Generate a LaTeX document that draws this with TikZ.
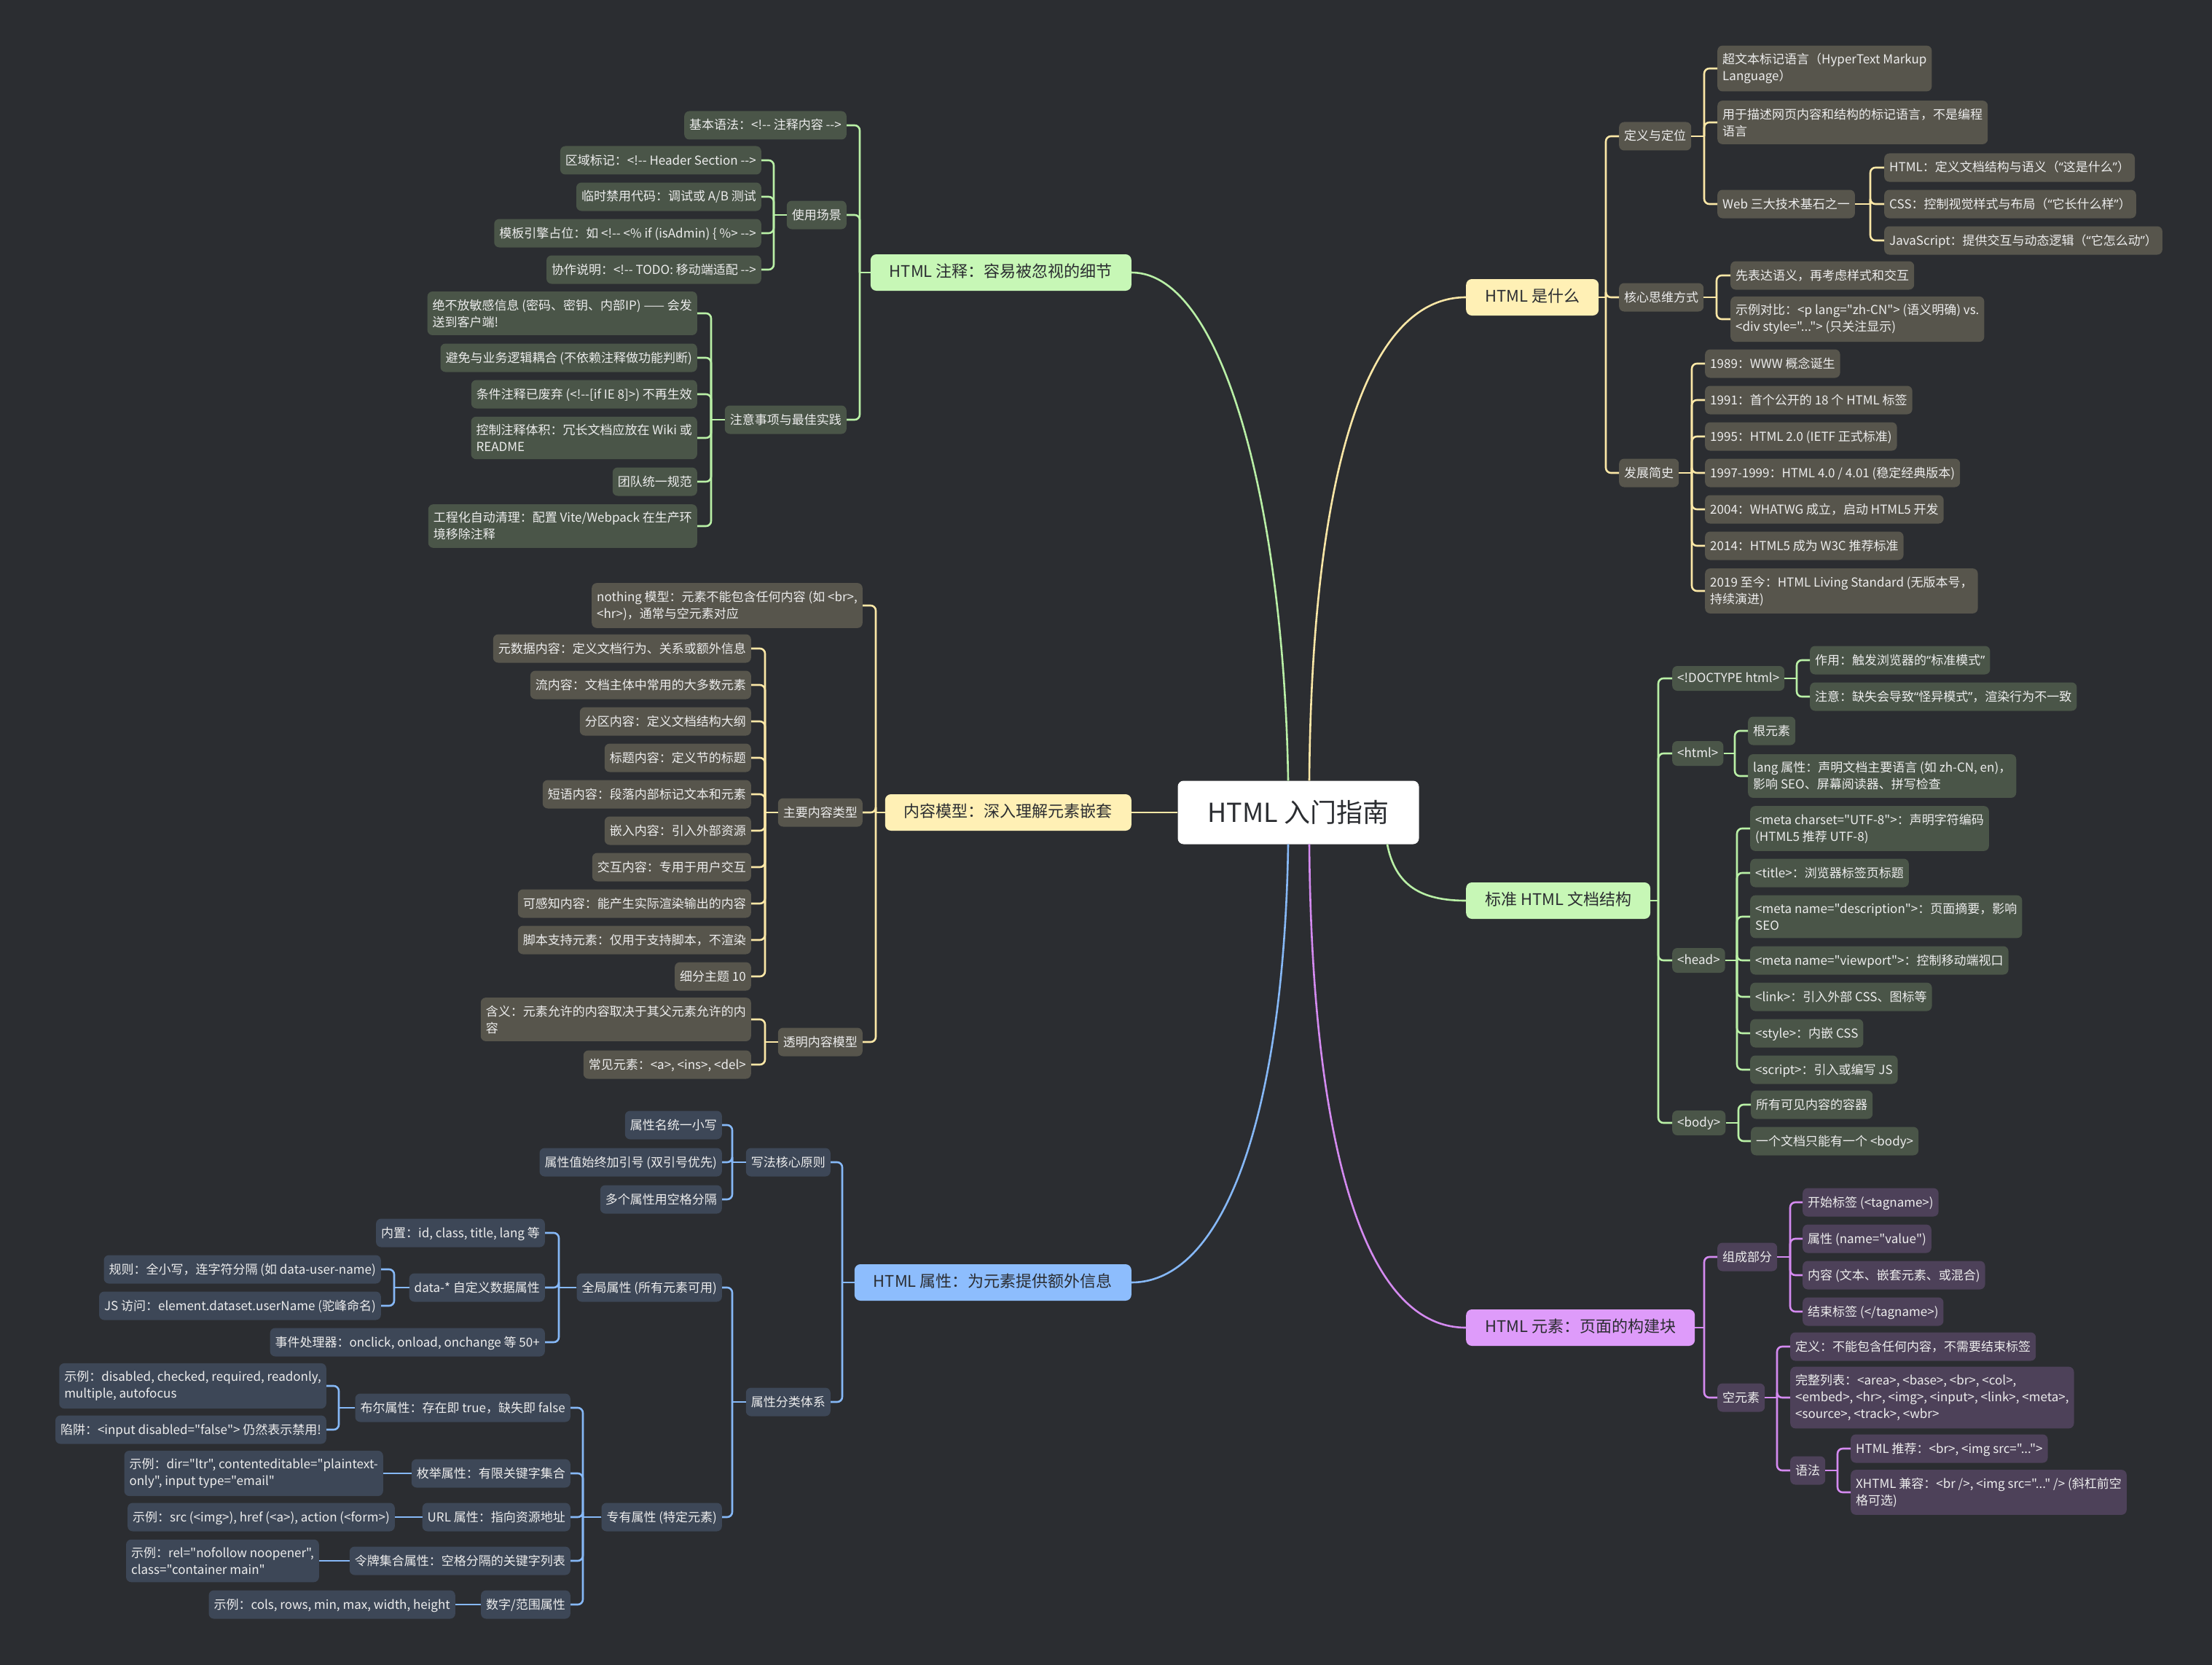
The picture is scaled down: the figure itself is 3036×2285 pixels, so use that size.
\documentclass[tikz,border=0pt]{standalone}
\usepackage{fontspec}
\newfontfamily\cjk{Noto Sans CJK SC}
\newfontfamily\latq{Noto Sans}
\newcommand{\q}[1]{{\latq “}#1{\latq ”}}
\usetikzlibrary{calc}
\definecolor{bg}{HTML}{2B2D31}
\definecolor{subtxt}{HTML}{EDEDED}
\definecolor{maintxt}{HTML}{2B2D31}
\definecolor{gline}{HTML}{B9F0A6}
\definecolor{gsub}{HTML}{4A5548}
\definecolor{gmain}{HTML}{C7F7B6}
\definecolor{yline}{HTML}{FBE7A6}
\definecolor{ysub}{HTML}{57554C}
\definecolor{ymain}{HTML}{FFF0B5}
\definecolor{bline}{HTML}{86B8F7}
\definecolor{bsub}{HTML}{3D4757}
\definecolor{bmain}{HTML}{8DBDFD}
\definecolor{pline}{HTML}{D48AF0}
\definecolor{psub}{HTML}{4D4159}
\definecolor{pmain}{HTML}{DE9BFA}
\newcommand{\bra}[4]{\draw[#1] (#2) -- (#2 -| #3);\draw[#1,rounded corners=7pt] (#2 -| #3) |- (#4);}
\tikzset{
 base/.style={rounded corners=7pt, inner xsep=7pt, inner ysep=10.5pt, text=subtxt, font=\cjk\fontsize{17}{23}\selectfont},
 one/.style={text height=15pt, text depth=3pt},
 lat/.style={text height=12pt, text depth=1pt},
 two/.style={align=left},
 gs/.style={base, fill=gsub},
 ys/.style={base, fill=ysub},
 bs/.style={base, fill=bsub},
 ps/.style={base, fill=psub},
 mn/.style={rounded corners=8pt, inner xsep=26pt, inner ysep=14pt, text height=17pt, text depth=5pt, text=maintxt, font=\cjk\fontsize{22}{26}\selectfont},
 L/.style={anchor=east},
 R/.style={anchor=west},
 gl/.style={draw=gline, line width=2.6pt},
 yl/.style={draw=yline, line width=2.6pt},
 bl/.style={draw=bline, line width=2.6pt},
 pl/.style={draw=pline, line width=2.6pt},
}
\begin{document}
\begin{tikzpicture}[x=1pt,y=-1pt]
\fill[bg] (0,0) rectangle (3036,2285);
\useasboundingbox (0,0) rectangle (3036,2285);

% ---------- center and main nodes
\node[fill=white, rounded corners=8pt, minimum width=331pt, minimum height=87pt, text=maintxt, font=\cjk\fontsize{36}{40}\selectfont] (c) at (1782,1115) {HTML 入门指南};
\node[mn, fill=gmain, L] (m1) at (1553,374) {HTML 注释：容易被忽视的细节};
\node[mn, fill=ymain, L] (m2) at (1553,1115) {内容模型：深入理解元素嵌套};
\node[mn, fill=bmain, L] (m3) at (1553,1760) {HTML 属性：为元素提供额外信息};
\node[mn, fill=ymain, R] (m4) at (2012,408) {HTML 是什么};
\node[mn, fill=gmain, R] (m5) at (2012,1236) {标准 HTML 文档结构};
\node[mn, fill=pmain, R] (m6) at (2012,1822) {HTML 元素：页面的构建块};

\draw[gl] ($(c.north)+(-14,0)$) .. controls (1762,700) and (1680,374) .. (m1.east);
\draw[yl] (c.west) -- (m2.east);
\draw[bl] ($(c.south)+(-14,0)$) .. controls (1762,1530) and (1680,1760) .. (m3.east);
\draw[yl] ($(c.north)+(15,0)$) .. controls (1800,700) and (1860,408) .. (m4.west);
\draw[gl] ($(c.south)+(122,0)$) .. controls (1915,1215) and (1950,1236) .. (m5.west);
\draw[pl] ($(c.south)+(15,0)$) .. controls (1800,1530) and (1860,1822) .. (m6.west);

% ---------- trunks
\coordinate (tA) at (1180,0); \coordinate (tB) at (1062,0); \coordinate (tC) at (976,0);
\coordinate (tD) at (1202,0); \coordinate (tE) at (1050,0);
\coordinate (tF) at (1156,0); \coordinate (tG) at (1005,0); \coordinate (tH) at (767,0);
\coordinate (tI) at (541,0); \coordinate (tJ) at (800,0); \coordinate (tK) at (465,0);
\coordinate (tL) at (2204,0); \coordinate (tM) at (2339,0); \coordinate (tN) at (2567,0);
\coordinate (tO) at (2356,0); \coordinate (tP) at (2322,0);
\coordinate (tQ) at (2276,0); \coordinate (tR) at (2466,0); \coordinate (tS) at (2381,0);
\coordinate (tT) at (2384,0); \coordinate (tU) at (2386,0);
\coordinate (tV) at (2339,0); \coordinate (tW) at (2457,0); \coordinate (tX) at (2439,0);
\coordinate (tY) at (2522,0);

% ---------- HTML 注释
\node[gs,one,L] (g1) at (1162,172) {基本语法：<!-- 注释内容 -->};
\node[gs,one,L] (g2) at (1162,295) {使用场景};
\node[gs,one,L] (g3) at (1162,576) {注意事项与最佳实践};
\node[gs,one,L] (g21) at (1045,220) {区域标记：<!-- Header Section -->};
\node[gs,one,L] (g22) at (1045,270) {临时禁用代码：调试或 A/B 测试};
\node[gs,one,L] (g23) at (1045,320) {模板引擎占位：如 <!-- <\% if (isAdmin) \{ \%> -->};
\node[gs,one,L] (g24) at (1045,370) {协作说明：<!-- TODO: 移动端适配 -->};
\node[gs,two,L] (g31) at (957,430) {绝不放敏感信息 (密码、密钥、内部IP) —— 会发\\送到客户端!};
\node[gs,one,L] (g32) at (957,491) {避免与业务逻辑耦合 (不依赖注释做功能判断)};
\node[gs,one,L] (g33) at (957,541) {条件注释已废弃 (<!--[if IE 8]>) 不再生效};
\node[gs,two,L] (g34) at (957,601) {控制注释体积：冗长文档应放在 Wiki 或\\README};
\node[gs,one,L] (g35) at (957,661) {团队统一规范};
\node[gs,two,L] (g36) at (957,722) {工程化自动清理：配置 Vite/Webpack 在生产环\\境移除注释};
\foreach \k in {g1,g2,g3} {\bra{gl}{m1.west}{tA}{\k.east}}
\foreach \k in {g21,g22,g23,g24} {\bra{gl}{g2.west}{tB}{\k.east}}
\foreach \k in {g31,g32,g33,g34,g35,g36} {\bra{gl}{g3.west}{tC}{\k.east}}

% ---------- 内容模型
\node[ys,two,L] (y1) at (1184,831) {nothing 模型：元素不能包含任何内容 (如 <br>,\\<hr>)，通常与空元素对应};
\node[ys,one,L] (y2) at (1184,1115) {主要内容类型};
\node[ys,one,L] (y3) at (1184,1430) {透明内容模型};
\node[ys,one,L] (y21) at (1031,890) {元数据内容：定义文档行为、关系或额外信息};
\node[ys,one,L] (y22) at (1031,940) {流内容：文档主体中常用的大多数元素};
\node[ys,one,L] (y23) at (1031,990) {分区内容：定义文档结构大纲};
\node[ys,one,L] (y24) at (1031,1040) {标题内容：定义节的标题};
\node[ys,one,L] (y25) at (1031,1090) {短语内容：段落内部标记文本和元素};
\node[ys,one,L] (y26) at (1031,1140) {嵌入内容：引入外部资源};
\node[ys,one,L] (y27) at (1031,1190) {交互内容：专用于用户交互};
\node[ys,one,L] (y28) at (1031,1240) {可感知内容：能产生实际渲染输出的内容};
\node[ys,one,L] (y29) at (1031,1290) {脚本支持元素：仅用于支持脚本，不渲染};
\node[ys,one,L] (y2a) at (1031,1340) {细分主题 10};
\node[ys,two,L] (y31) at (1031,1399) {含义：元素允许的内容取决于其父元素允许的内\\容};
\node[ys,one,L] (y32) at (1031,1461) {常见元素：<a>, <ins>, <del>};
\foreach \k in {y1,y2,y3} {\bra{yl}{m2.west}{tD}{\k.east}}
\foreach \k in {y21,y22,y23,y24,y25,y26,y27,y28,y29,y2a} {\bra{yl}{y2.west}{tE}{\k.east}}
\foreach \k in {y31,y32} {\bra{yl}{y3.west}{tE}{\k.east}}

% ---------- HTML 属性
\node[bs,one,L] (b1) at (1140,1595) {写法核心原则};
\node[bs,one,L] (b2) at (1140,1924) {属性分类体系};
\node[bs,one,L] (b11) at (991,1544) {属性名统一小写};
\node[bs,one,L] (b12) at (991,1595) {属性值始终加引号 (双引号优先)};
\node[bs,one,L] (b13) at (991,1646) {多个属性用空格分隔};
\node[bs,one,L] (b21) at (991,1767) {全局属性 (所有元素可用)};
\node[bs,one,L] (b22) at (991,2082) {专有属性 (特定元素)};
\node[bs,one,L] (b211) at (748,1692) {内置：id, class, title, lang 等};
\node[bs,one,L] (b212) at (748,1767) {data-* 自定义数据属性};
\node[bs,one,L] (b213) at (748,1842) {事件处理器：onclick, onload, onchange 等 50+};
\node[bs,one,L] (b2121) at (523,1742) {规则：全小写，连字符分隔 (如 data-user-name)};
\node[bs,one,L] (b2122) at (523,1792) {JS 访问：element.dataset.userName (驼峰命名)};
\node[bs,one,L] (b221) at (783,1932) {布尔属性：存在即 true，缺失即 false};
\node[bs,one,L] (b222) at (783,2022) {枚举属性：有限关键字集合};
\node[bs,one,L] (b223) at (783,2082) {URL 属性：指向资源地址};
\node[bs,one,L] (b224) at (783,2142) {令牌集合属性：空格分隔的关键字列表};
\node[bs,one,L] (b225) at (783,2202) {数字/范围属性};
\node[bs,two,L] (b2211) at (448,1902) {示例：disabled, checked, required, readonly,\\multiple, autofocus};
\node[bs,one,L] (b2212) at (448,1962) {陷阱：<input disabled="false"> 仍然表示禁用!};
\node[bs,two,L] (b2221) at (526,2022) {示例：dir="ltr", contenteditable="plaintext-\\only", input type="email"};
\node[bs,one,L] (b2231) at (542,2082) {示例：src (<img>), href (<a>), action (<form>)};
\node[bs,two,L] (b2241) at (438,2142) {示例：rel="nofollow noopener",\\class="container main"};
\node[bs,one,L] (b2251) at (625,2202) {示例：cols, rows, min, max, width, height};
\foreach \k in {b1,b2} {\bra{bl}{m3.west}{tF}{\k.east}}
\foreach \k in {b11,b12,b13} {\bra{bl}{b1.west}{tG}{\k.east}}
\foreach \k in {b21,b22} {\bra{bl}{b2.west}{tG}{\k.east}}
\foreach \k in {b211,b212,b213} {\bra{bl}{b21.west}{tH}{\k.east}}
\foreach \k in {b2121,b2122} {\bra{bl}{b212.west}{tI}{\k.east}}
\foreach \k in {b221,b222,b223,b224,b225} {\bra{bl}{b22.west}{tJ}{\k.east}}
\foreach \k in {b2211,b2212} {\bra{bl}{b221.west}{tK}{\k.east}}
\draw[bl] (b222.west) -- (b2221.east);
\draw[bl] (b223.west) -- (b2231.east);
\draw[bl] (b224.west) -- (b2241.east);
\draw[bl] (b225.west) -- (b2251.east);

% ---------- HTML 是什么
\node[ys,one,R] (w1) at (2222,187) {定义与定位};
\node[ys,one,R] (w2) at (2222,408) {核心思维方式};
\node[ys,one,R] (w3) at (2222,649) {发展简史};
\node[ys,two,R] (w11) at (2357,94) {超文本标记语言（HyperText Markup\\Language）};
\node[ys,two,R] (w12) at (2357,168) {用于描述网页内容和结构的标记语言，不是编程\\语言};
\node[ys,one,R] (w13) at (2357,280) {Web 三大技术基石之一};
\node[ys,one,R] (w131) at (2586,230) {HTML：定义文档结构与语义（\q{这是什么}）};
\node[ys,one,R] (w132) at (2586,280) {CSS：控制视觉样式与布局（\q{它长什么样}）};
\node[ys,one,R] (w133) at (2586,330) {JavaScript：提供交互与动态逻辑（\q{它怎么动}）};
\node[ys,one,R] (w21) at (2375,378) {先表达语义，再考虑样式和交互};
\node[ys,two,R] (w22) at (2375,438) {示例对比：<p lang="zh-CN"> (语义明确) vs.\\<div style="..."> (只关注显示)};
\node[ys,one,R] (w31) at (2340,499) {1989：WWW 概念诞生};
\node[ys,one,R] (w32) at (2340,549) {1991：首个公开的 18 个 HTML 标签};
\node[ys,one,R] (w33) at (2340,599) {1995：HTML 2.0 (IETF 正式标准)};
\node[ys,one,R] (w34) at (2340,649) {1997-1999：HTML 4.0 / 4.01 (稳定经典版本)};
\node[ys,one,R] (w35) at (2340,699) {2004：WHATWG 成立，启动 HTML5 开发};
\node[ys,one,R] (w36) at (2340,749) {2014：HTML5 成为 W3C 推荐标准};
\node[ys,two,R] (w37) at (2340,811) {2019 至今：HTML Living Standard (无版本号，\\持续演进)};
\foreach \k in {w1,w2,w3} {\bra{yl}{m4.east}{tL}{\k.west}}
\foreach \k in {w11,w12,w13} {\bra{yl}{w1.east}{tM}{\k.west}}
\foreach \k in {w131,w132,w133} {\bra{yl}{w13.east}{tN}{\k.west}}
\foreach \k in {w21,w22} {\bra{yl}{w2.east}{tO}{\k.west}}
\foreach \k in {w31,w32,w33,w34,w35,w36,w37} {\bra{yl}{w3.east}{tP}{\k.west}}

% ---------- 标准 HTML 文档结构
\node[gs,lat,R] (d1) at (2295,931) {<!DOCTYPE html>};
\node[gs,lat,R] (d2) at (2295,1034) {<html>};
\node[gs,lat,R] (d3) at (2295,1318) {<head>};
\node[gs,lat,R] (d4) at (2295,1541) {<body>};
\node[gs,one,R] (d11) at (2484,906) {作用：触发浏览器的\q{标准模式}};
\node[gs,one,R] (d12) at (2484,956) {注意：缺失会导致\q{怪异模式}，渲染行为不一致};
\node[gs,one,R] (d21) at (2399,1003) {根元素};
\node[gs,two,R] (d22) at (2399,1065) {lang 属性：声明文档主要语言 (如 zh-CN, en)，\\影响 SEO、屏幕阅读器、拼写检查};
\node[gs,two,R] (d31) at (2402,1137) {<meta charset="UTF-8">：声明字符编码\\(HTML5 推荐 UTF-8)};
\node[gs,one,R] (d32) at (2402,1198) {<title>：浏览器标签页标题};
\node[gs,two,R] (d33) at (2402,1258) {<meta name="description">：页面摘要，影响\\SEO};
\node[gs,one,R] (d34) at (2402,1318) {<meta name="viewport">：控制移动端视口};
\node[gs,one,R] (d35) at (2402,1368) {<link>：引入外部 CSS、图标等};
\node[gs,one,R] (d36) at (2402,1418) {<style>：内嵌 CSS};
\node[gs,one,R] (d37) at (2402,1468) {<script>：引入或编写 JS};
\node[gs,one,R] (d41) at (2403,1516) {所有可见内容的容器};
\node[gs,one,R] (d42) at (2403,1566) {一个文档只能有一个 <body>};
\foreach \k in {d1,d2,d3,d4} {\bra{gl}{m5.east}{tQ}{\k.west}}
\foreach \k in {d11,d12} {\bra{gl}{d1.east}{tR}{\k.west}}
\foreach \k in {d21,d22} {\bra{gl}{d2.east}{tS}{\k.west}}
\foreach \k in {d31,d32,d33,d34,d35,d36,d37} {\bra{gl}{d3.east}{tT}{\k.west}}
\foreach \k in {d41,d42} {\bra{gl}{d4.east}{tU}{\k.west}}

% ---------- HTML 元素
\node[ps,one,R] (p1) at (2357,1725) {组成部分};
\node[ps,one,R] (p2) at (2357,1918) {空元素};
\node[ps,one,R] (p11) at (2474,1650) {开始标签 (<tagname>)};
\node[ps,one,R] (p12) at (2474,1700) {属性 (name="value")};
\node[ps,one,R] (p13) at (2474,1750) {内容 (文本、嵌套元素、或混合)};
\node[ps,one,R] (p14) at (2474,1800) {结束标签 (</tagname>)};
\node[ps,one,R] (p21) at (2457,1848) {定义：不能包含任何内容，不需要结束标签};
\node[ps,two,R] (p22) at (2457,1918) {完整列表：<area>, <base>, <br>, <col>,\\<embed>, <hr>, <img>, <input>, <link>, <meta>,\\<source>, <track>, <wbr>};
\node[ps,one,R] (p23) at (2457,2018) {语法};
\node[ps,one,R] (p231) at (2540,1988) {HTML 推荐：<br>, <img src="...">};
\node[ps,two,R] (p232) at (2540,2048) {XHTML 兼容：<br />, <img src="..." /> (斜杠前空\\格可选)};
\foreach \k in {p1,p2} {\bra{pl}{m6.east}{tV}{\k.west}}
\foreach \k in {p11,p12,p13,p14} {\bra{pl}{p1.east}{tW}{\k.west}}
\foreach \k in {p21,p22,p23} {\bra{pl}{p2.east}{tX}{\k.west}}
\foreach \k in {p231,p232} {\bra{pl}{p23.east}{tY}{\k.west}}
\end{tikzpicture}
\end{document}
